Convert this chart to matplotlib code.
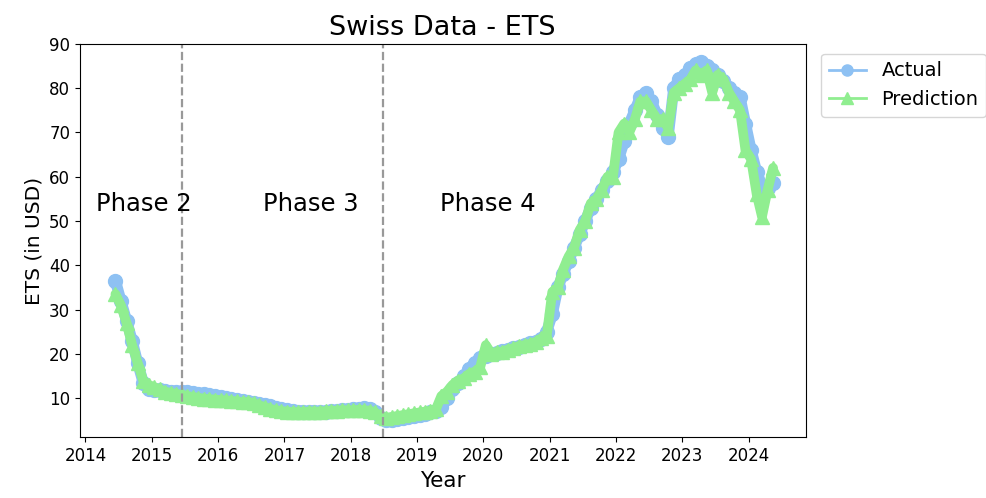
import matplotlib
matplotlib.use("Agg")
import matplotlib.pyplot as plt
import matplotlib.dates as mdates
from matplotlib.lines import Line2D
import pandas as pd

# monthly points, Jun 2014 .. May 2024
months = pd.date_range("2014-06-01", periods=120, freq="MS") + pd.Timedelta(days=14)

actual = [
    36.5, 32, 27.5, 23, 18, 13.5, 12,                                  # 2014
    11.8, 11.8, 11.6, 11.5, 11.4, 11.3, 11.3, 11.2, 11, 10.9, 10.7, 10.4,   # 2015
    10.2, 10, 9.8, 9.6, 9.4, 9.2, 9, 8.8, 8.5, 8.2, 7.9, 7.6,              # 2016
    7.3, 7.1, 7.0, 6.9, 6.8, 6.8, 6.9, 7.0, 7.1, 7.2, 7.3, 7.4,            # 2017
    7.5, 7.6, 7.7, 7.6, 7.0, 5.5, 5.0, 5.2, 5.4, 5.6, 5.8, 6.0,            # 2018
    6.3, 6.5, 6.8, 7.2, 8, 10, 12, 13.5, 15, 16.5, 18, 19,                 # 2019
    19.5, 20, 20.3, 20.6, 21, 21.3, 21.6, 22, 22.4, 22.8, 23.3, 25,        # 2020
    29, 35, 38, 41, 44, 47, 50, 53, 55, 57, 59, 61,                        # 2021
    64, 68, 72, 75, 78, 79, 77, 74, 71, 69, 80, 82,                        # 2022
    83, 84.5, 85.5, 86, 85, 84, 83, 81.5, 80, 79, 78, 72,                  # 2023
    66, 61, 58, 57.5, 58.5,                                                # 2024
]

prediction = [
    33.5, 31, 27, 22, 18, 14, 13,
    12.5, 12, 11.5, 11.2, 11, 10.8, 10.5, 10.3, 10.1, 9.9, 9.8, 9.7,
    9.6, 9.5, 9.4, 9.3, 9.1, 9.2, 8.9, 8.4, 8, 7.6, 7.3, 7.1,
    7.0, 6.9, 6.9, 6.9, 7.0, 7.0, 7.0, 7.1, 7.2, 7.2, 7.3, 7.3,
    7.3, 7.4, 7.3, 7.2, 6.8, 6.0, 5.6, 5.8, 6.0, 6.2, 6.4, 6.6,
    6.8, 7.0, 7.2, 7.5, 10.5, 11.5, 13, 14, 14.5, 15.5, 16, 17,
    22, 20, 20.5, 20.5, 21, 21.3, 21.8, 22, 22.3, 22.7, 23.5, 24,
    34, 35, 39, 42, 44, 48, 50, 54, 55, 57, 60, 60,
    70, 72, 70, 73, 77, 77, 75, 73, 73, 71, 79, 80,
    81, 82, 84, 83, 84, 79, 83, 82, 79, 77, 75, 66,
    64, 56, 51, 57, 62,
]

phase_lines = ["2015-06-15", "2018-06-28"]
phase_labels = ["Phase 2", "Phase 3", "Phase 4"]
phase_label_x = ["2014-11-20", "2017-05-28", "2020-01-25"]

blue = "#8ec1f3"
green = "#90ee90"

fig = plt.figure(figsize=(9.86, 4.98), dpi=100)
ax = fig.add_axes([0.081, 0.122, 0.736, 0.79])

# thick band (the original has dense overlapping markers)
ax.plot(months, actual, color=blue, linewidth=8, solid_capstyle="round",
        solid_joinstyle="round")
ax.plot(months, actual, color=blue, marker="o", markersize=10, linestyle="none")
ax.plot(months, prediction, color=green, linewidth=7, solid_capstyle="round",
        solid_joinstyle="round")
ax.plot(months, prediction, color=green, marker="^", markersize=10, linestyle="none")

for d in phase_lines:
    ax.axvline(pd.Timestamp(d), color="#999999", linestyle="--", linewidth=1.6)
for lab, d in zip(phase_labels, phase_label_x):
    ax.text(pd.Timestamp(d), 53.8, lab, fontsize=17.5, ha="center", va="center")

ax.set_xlim(pd.Timestamp("2013-12-01"), pd.Timestamp("2024-11-10"))
ax.set_ylim(1.2, 90)
ax.set_yticks(range(10, 91, 10))
ax.xaxis.set_major_locator(mdates.YearLocator())
ax.xaxis.set_major_formatter(mdates.DateFormatter("%Y"))
ax.tick_params(labelsize=12)

ax.set_title("Swiss Data - ETS", fontsize=19.5)
ax.set_xlabel("Year", fontsize=15.5)
ax.set_ylabel("ETS (in USD)", fontsize=14.5)

handles = [
    Line2D([], [], color=blue, marker="o", markersize=8, linewidth=2, label="Actual"),
    Line2D([], [], color=green, marker="^", markersize=8, linewidth=2, label="Prediction"),
]
ax.legend(handles=handles, loc="upper left", bbox_to_anchor=(1.008, 1.0),
          fontsize=14, handlelength=1.9)

fig.savefig("out.png", dpi=100)
